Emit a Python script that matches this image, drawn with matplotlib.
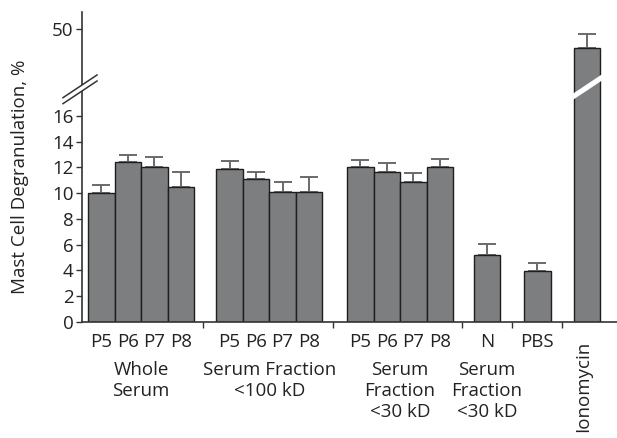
import matplotlib
matplotlib.use("Agg")
import matplotlib.pyplot as plt
from matplotlib.patches import Polygon
from matplotlib.lines import Line2D
import numpy as np

plt.rcParams['font.family'] = ['Open Sans', 'DejaVu Sans']

# ---- data ----
bar_labels = ["P5", "P6", "P7", "P8",
              "P5", "P6", "P7", "P8",
              "P5", "P6", "P7", "P8",
              "N", "PBS", ""]
values = [10.0, 12.42, 12.0, 10.48,
          11.88, 11.1, 10.09, 10.09,
          12.03, 11.65, 10.89, 12.03,
          5.2, 3.96, 48.5]
errors = [0.66, 0.52, 0.81, 1.17,
          0.62, 0.57, 0.75, 1.17,
          0.57, 0.66, 0.65, 0.60,
          0.83, 0.64, 1.1]
group_labels = ["Whole\nSerum", "Serum Fraction\n<100 kD",
                "Serum\nFraction\n<30 kD", "Serum\nFraction\n<30 kD", "", "Ionomycin"]
group_sizes = [4, 4, 4, 1, 1, 1]
lower_ticks = [0, 2, 4, 6, 8, 10, 12, 14, 16]
upper_ticks = [50]

FS = 13.5
TXT = '#222222'

# ---- layout ----
W, H = 617, 438
fig = plt.figure(figsize=(W / 100, H / 100), dpi=100)
x0_px, y0_px, brk_px, top_px = 82, 322, 88, 12
ax = fig.add_axes([x0_px / W, 1 - y0_px / H, 1 - x0_px / W, (y0_px - brk_px) / H])
axu = fig.add_axes([x0_px / W, 1 - brk_px / H, 1 - x0_px / W, (brk_px - top_px) / H], sharex=ax)

# group start positions (in bar-width units)
group_starts = [0.23, 5.07, 10.0, 14.78, 16.68, 18.55]
positions = []
for s, n in zip(group_starts, group_sizes):
    positions += [s + 0.5 + i for i in range(n)]
positions = np.array(positions)
separators = [4.58, 9.47, 14.33, 16.24, 18.1]

face = '#7d7e80'
edge = '#1e1e1e'
ecol = '#6a6a6a'
px_per_unit = 12.88
lower_top = (y0_px - brk_px) / px_per_unit
upper_bot = 50 - (brk_px - 29) / px_per_unit
upper_top = 50 + (29 - top_px) / px_per_unit

for a in (ax, axu):
    a.bar(positions, values, width=1.0, color=face, edgecolor=edge, linewidth=1.0, zorder=2)
    a.errorbar(positions, values, yerr=[np.zeros(len(errors)), errors], fmt='none',
               ecolor=ecol, elinewidth=1.4, capsize=6.8, capthick=1.4, zorder=1)
    for sp in ('top', 'right'):
        a.spines[sp].set_visible(False)
    a.spines['left'].set_color('#333333')
    a.spines['left'].set_linewidth(1.2)
    a.set_xlim(0, (W - x0_px) / 26.5)

ax.set_ylim(0, lower_top)
axu.set_ylim(upper_bot, upper_top)
ax.set_yticks(lower_ticks)
axu.set_yticks(upper_ticks)
axu.spines['bottom'].set_visible(False)
axu.tick_params(axis='x', which='both', bottom=False, labelbottom=False)
ax.spines['bottom'].set_color('#333333')
ax.spines['bottom'].set_linewidth(1.2)

for a in (ax, axu):
    a.tick_params(axis='y', direction='out', length=4, width=1.0, color='#333333',
                  labelsize=FS, pad=2, labelcolor=TXT)

ax.set_xticks(separators)
ax.set_xticklabels([""] * len(separators))
ax.tick_params(axis='x', which='major', direction='out', length=4, width=1.0, color='#333333')
ax.set_xticks(positions, minor=True)
ax.set_xticklabels(bar_labels, minor=True)
ax.tick_params(axis='x', which='minor', length=0, labelsize=FS, pad=8, labelcolor=TXT)

# group labels
axh = y0_px - brk_px
idx = 0
for lab, n in zip(group_labels, group_sizes):
    cx = positions[idx:idx + n].mean()
    idx += n
    if lab == "Ionomycin":
        ax.text(cx - 0.15, (y0_px - 341) / axh, lab, rotation=90,
                ha='center', va='top', fontsize=FS, color=TXT,
                transform=ax.get_xaxis_transform())
    elif lab:
        ax.text(cx, (y0_px - 361) / axh, lab, ha='center', va='top',
                fontsize=FS, color=TXT, linespacing=1.2,
                transform=ax.get_xaxis_transform())

fig.text(20 / W, 1 - 177 / H, "Mast Cell Degranulation, %", rotation=90,
         ha='center', va='center', fontsize=FS, color=TXT)

# break marks (figure pixel coords)
def fig_pt(xp, yp):
    return (xp / W, 1 - yp / H)

slope = 24 / 36
def band(xc, half, y1, y2):
    xl, xr = xc - half, xc + half
    return [fig_pt(xl, y1 + slope * half), fig_pt(xr, y1 - slope * half),
            fig_pt(xr, y2 - slope * half), fig_pt(xl, y2 + slope * half)]

# white gap across axis spine
fig.patches.append(Polygon(band(82, 17, 85, 91), closed=True, facecolor='white',
                           edgecolor='none', transform=fig.transFigure, zorder=5))
for yy in (85, 91):
    p1 = fig_pt(82 - 19, yy + slope * 19)
    p2 = fig_pt(82 + 15, yy - slope * 15)
    fig.lines.append(Line2D([p1[0], p2[0]], [p1[1], p2[1]], color='#333333',
                            linewidth=1.1, transform=fig.transFigure, zorder=6))
# white gap across ionomycin bar
fig.patches.append(Polygon(band(587, 19, 84.3, 90.5), closed=True, facecolor='white',
                           edgecolor='none', transform=fig.transFigure, zorder=5))

fig.savefig("out.png", dpi=100)
